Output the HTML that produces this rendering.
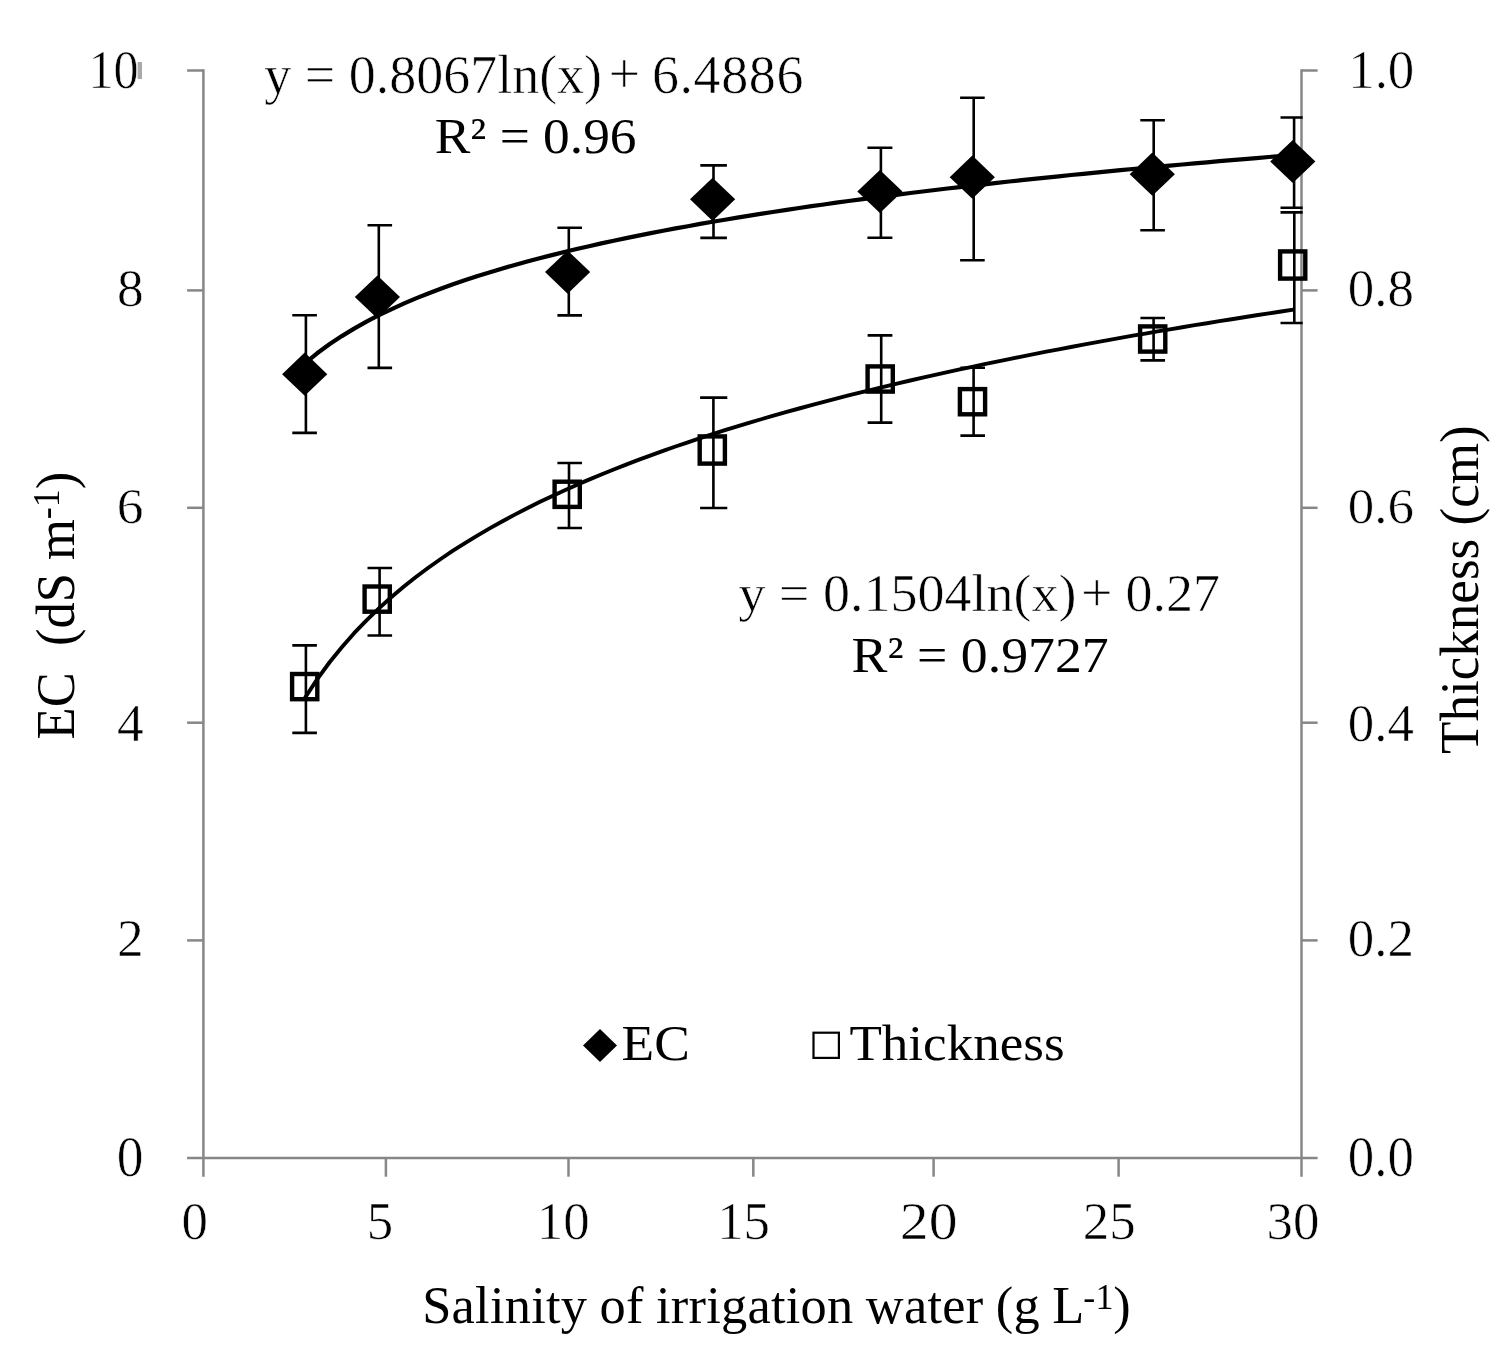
<!DOCTYPE html>
<html lang="en"><head><meta charset="utf-8"><title>EC and Thickness vs Salinity of irrigation water</title>
<style>html,body{margin:0;padding:0;background:#fff}body{width:1510px;height:1363px;overflow:hidden}svg{display:block}text{font-family:"Liberation Serif","Times New Roman",serif;fill:#000;white-space:pre}.thin text,text.thin{stroke:#fff;stroke-width:0.6px;paint-order:fill stroke}</style>
</head><body>
<svg role="img" aria-label="EC and thickness versus salinity of irrigation water" width="1510" height="1363" viewBox="0 0 1510 1363">
<rect width="1510" height="1363" fill="#fff"/>
<defs><clipPath id="plot"><rect x="202.0" y="69.1" width="1100.7" height="1090.2"/></clipPath></defs>
<rect x="137.6" y="62" width="4.4" height="17" fill="#a9a9a9"/>
<g stroke="#878787" stroke-width="2.50" fill="none">
<line x1="203.4" y1="69.2" x2="203.4" y2="1176.7"/>
<line x1="1301.5" y1="69.2" x2="1301.5" y2="1176.7"/>
<line x1="187.1" y1="1157.9" x2="1317.6" y2="1157.9"/>
<line x1="187.1" y1="70.5" x2="203.4" y2="70.5"/>
<line x1="1301.5" y1="70.5" x2="1317.6" y2="70.5"/>
<line x1="187.1" y1="290.4" x2="203.4" y2="290.4"/>
<line x1="1301.5" y1="290.4" x2="1317.6" y2="290.4"/>
<line x1="187.1" y1="507.8" x2="203.4" y2="507.8"/>
<line x1="1301.5" y1="507.8" x2="1317.6" y2="507.8"/>
<line x1="187.1" y1="722.7" x2="203.4" y2="722.7"/>
<line x1="1301.5" y1="722.7" x2="1317.6" y2="722.7"/>
<line x1="187.1" y1="940.4" x2="203.4" y2="940.4"/>
<line x1="1301.5" y1="940.4" x2="1317.6" y2="940.4"/>
<line x1="385.9" y1="1157.9" x2="385.9" y2="1176.7"/>
<line x1="568.5" y1="1157.9" x2="568.5" y2="1176.7"/>
<line x1="753.3" y1="1157.9" x2="753.3" y2="1176.7"/>
<line x1="933.6" y1="1157.9" x2="933.6" y2="1176.7"/>
<line x1="1118.6" y1="1157.9" x2="1118.6" y2="1176.7"/>
</g>
<g stroke="#000" stroke-width="2.6" fill="none" clip-path="url(#plot)">
<path d="M305.9 315.2V432.9M292.3 315.2H316.9M292.3 432.9H316.9"/>
<path d="M378.8 225.2V367.9M367.5 225.2H392.1M367.5 367.9H392.1"/>
<path d="M568.8 227.8V315.4M557.4 227.8H582.0M557.4 315.4H582.0"/>
<path d="M713.5 165.4V237.9M700.3 165.4H726.9M700.3 237.9H726.9"/>
<path d="M880.9 147.8V237.8M867.4 147.8H892.4M867.4 237.8H892.4"/>
<path d="M973.7 97.8V260.3M960.1 97.8H984.7M960.1 260.3H984.7"/>
<path d="M1153.7 120.2V230.3M1140.3 120.2H1164.9M1140.3 230.3H1164.9"/>
<path d="M1294.1 117.5V207.8M1280.5 117.5H1305.1M1280.5 207.8H1305.1"/>
</g>
<g stroke="#000" stroke-width="2.6" fill="none" clip-path="url(#plot)">
<path d="M305.9 645.4V732.9M292.3 645.4H316.9M292.3 732.9H316.9"/>
<path d="M379.6 568.0V635.5M367.5 568.0H392.1M367.5 635.5H392.1"/>
<path d="M569.0 463.0V528.0M557.4 463.0H582.0M557.4 528.0H582.0"/>
<path d="M713.4 397.6V508.0M700.1 397.6H727.3M700.1 508.0H727.3"/>
<path d="M881.2 335.4V422.6M867.6 335.4H892.4M867.6 422.6H892.4"/>
<path d="M973.6 367.8V435.6M960.4 367.8H985.0M960.4 435.6H985.0"/>
<path d="M1153.6 318.0V360.4M1140.4 318.0H1165.0M1140.4 360.4H1165.0"/>
<path d="M1294.3 212.4V323.0M1280.5 212.4H1305.1M1280.5 323.0H1305.1"/>
</g>
<path d="M304.7 363.4L317.1 353.3L329.4 344.3L341.8 336.1L354.1 328.6L366.5 321.7L378.9 315.2L391.2 309.3L403.6 303.7L415.9 298.4L428.3 293.5L440.7 288.8L453.0 284.3L465.4 280.1L477.7 276.0L490.1 272.2L502.5 268.5L514.8 264.9L527.2 261.5L539.5 258.2L551.9 255.1L564.3 252.0L576.6 249.0L589.0 246.2L601.3 243.4L613.7 240.7L626.1 238.1L638.4 235.6L650.8 233.1L663.1 230.8L675.5 228.4L687.9 226.2L700.2 223.9L712.6 221.8L724.9 219.7L737.3 217.6L749.7 215.6L762.0 213.7L774.4 211.7L786.7 209.9L799.1 208.0L811.5 206.2L823.8 204.5L836.2 202.7L848.5 201.0L860.9 199.4L873.3 197.7L885.6 196.1L898.0 194.6L910.3 193.0L922.7 191.5L935.1 190.0L947.4 188.5L959.8 187.1L972.1 185.7L984.5 184.3L996.9 182.9L1009.2 181.5L1021.6 180.2L1033.9 178.9L1046.3 177.6L1058.7 176.3L1071.0 175.0L1083.4 173.8L1095.7 172.6L1108.1 171.4L1120.5 170.2L1132.8 169.0L1145.2 167.8L1157.5 166.7L1169.9 165.6L1182.3 164.5L1194.6 163.4L1207.0 162.3L1219.3 161.2L1231.7 160.1L1244.1 159.1L1256.4 158.1L1268.8 157.0L1281.1 156.0L1293.5 155.0" stroke="#000" stroke-width="4.2" fill="none" stroke-linejoin="round"/>
<path d="M304.7 698.2L317.1 679.4L329.4 662.5L341.8 647.2L354.1 633.2L366.5 620.3L378.9 608.4L391.2 597.2L403.6 586.8L415.9 577.0L428.3 567.8L440.7 559.0L453.0 550.7L465.4 542.8L477.7 535.3L490.1 528.1L502.5 521.2L514.8 514.6L527.2 508.2L539.5 502.1L551.9 496.2L564.3 490.5L576.6 484.9L589.0 479.6L601.3 474.5L613.7 469.5L626.1 464.6L638.4 459.9L650.8 455.3L663.1 450.8L675.5 446.5L687.9 442.3L700.2 438.2L712.6 434.1L724.9 430.2L737.3 426.4L749.7 422.6L762.0 419.0L774.4 415.4L786.7 411.9L799.1 408.5L811.5 405.1L823.8 401.8L836.2 398.6L848.5 395.4L860.9 392.3L873.3 389.3L885.6 386.3L898.0 383.4L910.3 380.5L922.7 377.6L935.1 374.9L947.4 372.1L959.8 369.4L972.1 366.8L984.5 364.2L996.9 361.6L1009.2 359.1L1021.6 356.6L1033.9 354.1L1046.3 351.7L1058.7 349.3L1071.0 347.0L1083.4 344.7L1095.7 342.4L1108.1 340.1L1120.5 337.9L1132.8 335.7L1145.2 333.6L1157.5 331.4L1169.9 329.3L1182.3 327.3L1194.6 325.2L1207.0 323.2L1219.3 321.2L1231.7 319.2L1244.1 317.2L1256.4 315.3L1268.8 313.4L1281.1 311.5L1293.5 309.6" stroke="#000" stroke-width="3.9" fill="none" stroke-linejoin="round"/>
<g fill="#000">
<path d="M304.7 352.6L327.3 374.2L304.7 395.8L282.1 374.2Z"/>
<path d="M377.4 275.4L400.0 297.0L377.4 318.6L354.8 297.0Z"/>
<path d="M567.6 250.5L590.2 272.1L567.6 293.7L545.0 272.1Z"/>
<path d="M712.6 177.7L735.2 199.3L712.6 220.9L690.0 199.3Z"/>
<path d="M879.9 169.9L902.5 191.5L879.9 213.1L857.3 191.5Z"/>
<path d="M972.3 155.6L994.9 177.2L972.3 198.8L949.7 177.2Z"/>
<path d="M1152.3 152.6L1174.9 174.2L1152.3 195.8L1129.7 174.2Z"/>
<path d="M1292.8 139.9L1315.4 161.5L1292.8 183.1L1270.2 161.5Z"/>
</g>
<g fill="none" stroke="#000" stroke-width="4.4">
<rect x="292.1" y="674.0" width="25.2" height="25.2"/>
<rect x="364.6" y="586.5" width="25.2" height="25.2"/>
<rect x="554.6" y="481.7" width="25.2" height="25.2"/>
<rect x="699.7" y="436.4" width="25.2" height="27.2"/>
<rect x="867.6" y="366.4" width="25.2" height="25.2"/>
<rect x="959.9" y="389.1" width="25.2" height="25.2"/>
<rect x="1140.1" y="326.4" width="25.2" height="25.2"/>
<rect x="1280.1" y="251.4" width="25.2" height="27.2"/>
</g>
<g class="thin">
<text transform="translate(138.6,88.1) scale(0.930,1.025)" font-size="54.0" text-anchor="end">10</text>
<text transform="translate(143.6,306.1) scale(0.990,0.970)" font-size="54.0" text-anchor="end">8</text>
<text transform="translate(143.6,523.1) scale(0.990,0.956)" font-size="54.0" text-anchor="end">6</text>
<text transform="translate(143.6,741.1) scale(0.990,0.970)" font-size="54.0" text-anchor="end">4</text>
<text transform="translate(143.6,956.1) scale(0.990,0.970)" font-size="54.0" text-anchor="end">2</text>
<text transform="translate(143.6,1176.1) scale(0.990,1.038)" font-size="54.0" text-anchor="end">0</text>
<text transform="translate(1348.2,88.1) scale(0.980,1.025)" font-size="54.0" text-anchor="start">1.0</text>
<text transform="translate(1347.8,306.1) scale(0.980,0.970)" font-size="54.0" text-anchor="start">0.8</text>
<text transform="translate(1347.8,523.1) scale(0.980,0.956)" font-size="54.0" text-anchor="start">0.6</text>
<text transform="translate(1347.8,741.1) scale(0.980,0.970)" font-size="54.0" text-anchor="start">0.4</text>
<text transform="translate(1347.8,956.1) scale(0.980,0.970)" font-size="54.0" text-anchor="start">0.2</text>
<text transform="translate(1347.8,1176.1) scale(0.980,1.038)" font-size="54.0" text-anchor="start">0.0</text>
<text transform="translate(194.8,1238.7) scale(0.980,0.984)" font-size="54.0" text-anchor="middle">0</text>
<text transform="translate(379.9,1238.7) scale(0.980,0.984)" font-size="54.0" text-anchor="middle">5</text>
<text transform="translate(563.2,1238.7) scale(0.980,0.984)" font-size="54.0" text-anchor="middle">10</text>
<text transform="translate(743.6,1238.7) scale(0.980,0.984)" font-size="54.0" text-anchor="middle">15</text>
<text transform="translate(928.7,1238.7) scale(1.070,0.984)" font-size="54.0" text-anchor="middle">20</text>
<text transform="translate(1109.3,1238.7) scale(0.980,0.984)" font-size="54.0" text-anchor="middle">25</text>
<text transform="translate(1293.0,1238.7) scale(0.980,0.984)" font-size="54.0" text-anchor="middle">30</text>
</g>
<text transform="translate(422.2,1323.2)" font-size="52.4" letter-spacing="0.25" word-spacing="-1">Salinity of irrigation water (g L<tspan font-size="36" dy="-14.6" dx="-1.2">-1</tspan><tspan dy="14.6" dx="-0.6">)</tspan></text>
<text transform="translate(74.3,739.4) rotate(-90) scale(1.000,1.030)" font-size="52.5" text-anchor="start">EC  (dS m<tspan font-size="36" dy="-14.6">-1</tspan><tspan dy="14.6">)</tspan></text>
<text transform="translate(1477.9,754.0) rotate(-90) scale(1.000,1.030)" font-size="53.1" text-anchor="start">Thickness (cm)</text>
<text class="thin" font-size="54" transform="translate(0,93.1) scale(1,1.025)"><tspan x="264.3">y = 0.8067ln(x)</tspan><tspan x="608.6"> </tspan><tspan x="608.6" font-size="56">+ </tspan><tspan x="651.9" letter-spacing="0.62">6.4886</tspan></text>
<text transform="translate(434.7,152.5) scale(1.000,0.940)" font-size="53.4" text-anchor="start">R² = 0.96</text>
<text class="thin" font-size="54" transform="translate(0,610.8) scale(1,0.965)"><tspan x="738.6">y = 0.1504ln(x)</tspan><tspan x="1081.0"> </tspan><tspan x="1081.0" font-size="56">+ </tspan><tspan x="1125.6">0.27</tspan></text>
<text transform="translate(851.6,672.2) scale(1.000,0.940)" font-size="53.8" text-anchor="start">R² = 0.9727</text>
<text transform="translate(621.6,1060.1) scale(1.000,0.950)" font-size="53.4" text-anchor="start">EC</text>
<text transform="translate(849.4,1060.1) scale(1.000,0.950)" font-size="53.1" text-anchor="start">Thickness</text>
<path d="M600 1029L617 1045.5L600 1062L583 1045.5Z" fill="#000"/>
<rect x="813.5" y="1032.7" width="25.4" height="25.2" fill="none" stroke="#000" stroke-width="2.2"/>
</svg>
</body></html>
